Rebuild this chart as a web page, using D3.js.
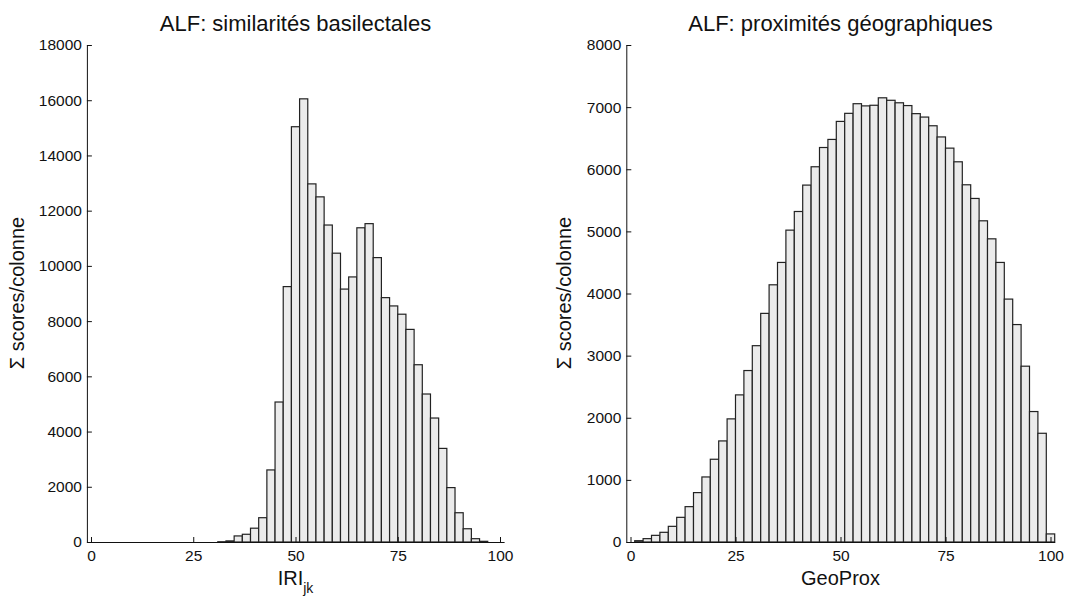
<!DOCTYPE html>
<html>
<head>
<meta charset="utf-8">
<script src="https://cdn.jsdelivr.net/npm/d3@7"></script>
<style>
  body { margin: 0; background: #fff; }
  svg { display: block; font-family: "Liberation Sans", Arial, sans-serif; }
</style>
</head>
<body>
<svg id="chart" width="1070" height="604"></svg>
<script>
// bin centres (width 2) shared by both histograms
var binCenters = d3.range(0, 101, 2);
var xTicks = [0, 25, 50, 75, 100];

// ALF: similarités basilectales (IRI_jk)
var iriCounts = [
  0, 0, 0, 0, 0, 0, 0, 0, 0, 0, 0, 0, 0, 0, 0, 0,
  10, 40, 220, 280, 500, 880, 2610, 5070, 9250, 15040,
  16050, 12970, 12500, 11480, 10460, 9160, 9600, 11380, 11530, 10300,
  8850, 8550, 8250, 7700, 6420, 5360, 4490, 3390, 1970, 1060,
  480, 120, 25, 0, 0
];
var iriTicks = [0, 2000, 4000, 6000, 8000, 10000, 12000, 14000, 16000, 18000];

// ALF: proximités géographiques (GeoProx)
var geoCounts = [
  0, 21, 54, 107, 156, 252, 397, 569, 795, 1047,
  1332, 1627, 1982, 2368, 2760, 3160, 3680, 4140, 4500, 5020,
  5320, 5745, 6040, 6350, 6480, 6770, 6900, 7055, 7020, 7030,
  7150, 7110, 7070, 7025, 6895, 6840, 6700, 6520, 6340, 6120,
  5750, 5530, 5170, 4880, 4500, 3910, 3500, 2830, 2100, 1750,
  130
];
var geoTicks = [0, 1000, 2000, 3000, 4000, 5000, 6000, 7000, 8000];

var svg = d3.select('#chart');

function drawPanel(o) {
  var x = d3.scaleLinear().domain([-1, 101]).range([o.left, o.right]);
  var y = d3.scaleLinear().domain([0, o.yMax]).range([542, 45]);
  var g = svg.append('g');

  // Bars
  g.selectAll('rect.bar')
    .data(binCenters.map(function(c, i) { return { c: c, v: o.counts[i] }; }))
    .enter().append('rect')
      .attr('class', 'bar')
      .attr('x', function(d) { return x(d.c - 1); })
      .attr('width', function(d) { return x(d.c + 1) - x(d.c - 1); })
      .attr('y', function(d) { return y(d.v); })
      .attr('height', function(d) { return y(0) - y(d.v); })
      .attr('fill', '#ebebeb')
      .attr('stroke', '#222')
      .attr('stroke-width', 1.2);

  // Axes, ticks inward
  var xAxis = g.append('g')
    .attr('transform', 'translate(0,' + y(0) + ')')
    .call(d3.axisBottom(x).tickValues(xTicks).tickSizeInner(-5).tickSizeOuter(0).tickPadding(8));
  var yAxis = g.append('g')
    .attr('transform', 'translate(' + x(-1) + ',0)')
    .call(d3.axisLeft(y).tickValues(o.yTicks).tickSizeInner(-5).tickSizeOuter(0).tickPadding(5)
      .tickFormat(d3.format('d')));

  [xAxis, yAxis].forEach(function(a) {
    a.attr('font-family', null).attr('font-size', null);
    a.select('.domain').attr('stroke', '#111');
    a.selectAll('.tick line').attr('stroke', '#111');
    a.selectAll('.tick text').attr('fill', '#111').style('font-size', '15.5px');
  });
  xAxis.selectAll('.tick text').attr('dy', '0.71em');

  var cx = (o.left + o.right) / 2;
  // Title
  g.append('text')
    .attr('x', cx).attr('y', 31)
    .attr('text-anchor', 'middle')
    .style('font-size', '22px')
    .attr('fill', '#111')
    .text(o.title);

  // X label
  var xl = g.append('text')
    .attr('x', cx).attr('y', 585)
    .attr('text-anchor', 'middle')
    .style('font-size', '20px')
    .attr('fill', '#111');
  xl.append('tspan').text(o.xLabel);
  if (o.xSub) {
    xl.append('tspan').attr('dy', 8).style('font-size', '14px').text(o.xSub);
  }

  // Y label
  g.append('text')
    .attr('transform', 'translate(' + o.yLabelX + ',293) rotate(-90)')
    .attr('text-anchor', 'middle')
    .style('font-size', '20px')
    .attr('fill', '#111')
    .text('Σ scores/colonne');
}

drawPanel({
  counts: iriCounts, yMax: 18000, yTicks: iriTicks,
  left: 86.9, right: 504.1, yLabelX: 24,
  title: 'ALF: similarités basilectales', xLabel: 'IRI', xSub: 'jk'
});

drawPanel({
  counts: geoCounts, yMax: 8000, yTicks: geoTicks,
  left: 626.3, right: 1054.7, yLabelX: 571,
  title: 'ALF: proximités géographiques', xLabel: 'GeoProx'
});
</script>
</body>
</html>
